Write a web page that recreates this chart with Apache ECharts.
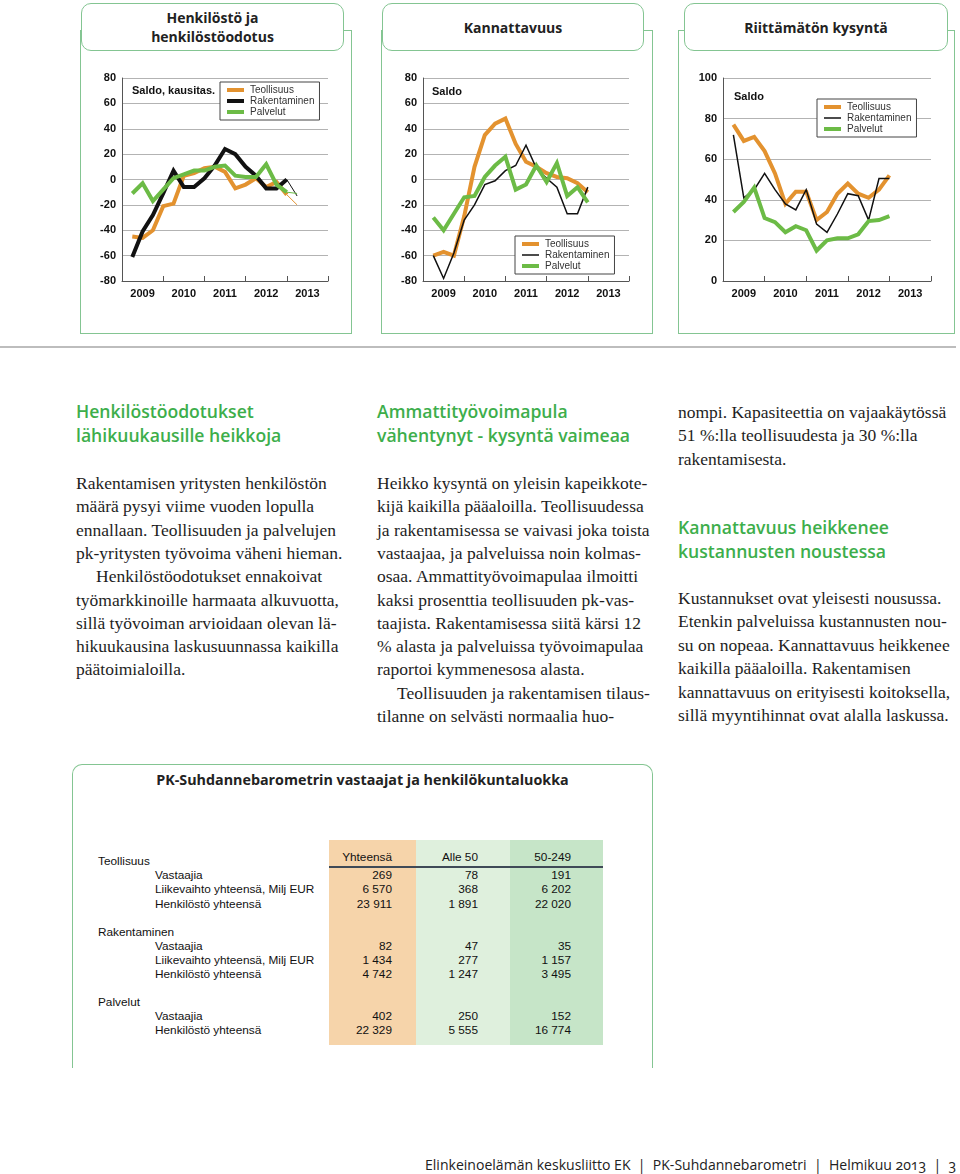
<!DOCTYPE html>
<html><head><meta charset="utf-8">
<script src="https://cdn.jsdelivr.net/npm/echarts/dist/echarts.min.js"></script>
<style>
html,body{margin:0;padding:0;background:#fff;}
body{width:960px;height:1174px;position:relative;overflow:hidden;}
#chart{position:absolute;left:0;top:0;width:960px;height:360px;z-index:2;}
.frame{position:absolute;border:1.5px solid #84c592;box-sizing:border-box;z-index:0;}
.hbox{position:absolute;background:#fff;border:1.5px solid #84c592;border-radius:10px;box-sizing:border-box;z-index:1;
  font-family:"Open Sans",sans-serif;font-weight:700;font-size:14px;color:#222;text-align:center;display:flex;align-items:center;justify-content:center;line-height:19px;}
.rule{position:absolute;left:0;top:346px;width:956px;height:2px;background:#bdbdbd;}
.line{position:absolute;white-space:nowrap;}
.body{font-family:"Liberation Serif","Times New Roman",serif;font-size:17.5px;color:#1e1e1e;height:24px;line-height:24px;}
.head{font-family:"Open Sans",sans-serif;font-weight:600;font-size:17.6px;color:#3dae4b;height:24px;line-height:24px;}
.tpanel{position:absolute;left:72px;top:764px;width:581px;height:304px;border:1.5px solid #84c592;border-bottom:none;border-radius:10px 10px 0 0;box-sizing:border-box;}
.ttitle{position:absolute;left:72px;width:581px;top:770px;text-align:center;font-family:"Open Sans",sans-serif;font-weight:700;font-size:14.3px;color:#222;line-height:20px;}
.tcell{position:absolute;font-family:"Liberation Sans",Arial,sans-serif;font-size:11.8px;color:#111;white-space:nowrap;height:14px;line-height:14px;}
.colbg{position:absolute;top:840px;height:205px;}
.footer{position:absolute;left:425px;top:1154px;font-family:"Open Sans",sans-serif;font-size:14.05px;color:#222;white-space:nowrap;line-height:22px;font-variant-numeric:oldstyle-nums;}
</style></head>
<body>
<div id="frames"></div>
<div class="rule"></div>
<div id="chart"></div>
<div id="texts"></div>
<div class="tpanel"></div>
<div class="ttitle">PK-Suhdannebarometrin vastaajat ja henkilökuntaluokka</div>
<div id="table"></div>
<div class="footer">Elinkeinoelämän keskusliitto EK &nbsp;|&nbsp; PK-Suhdannebarometri &nbsp;|&nbsp; Helmikuu 2013 &nbsp;|&nbsp; 3</div>
<script>
// ---------- DATA ----------
const years = ['2009', '2010', '2011', '2012', '2013'];
const seriesNames = ['Teollisuus', 'Rakentaminen', 'Palvelut'];

// Henkilöstö ja henkilöstöodotus (saldo, kausitasoitettu), 2009Q1..2012Q4
const empIndustry     = [-45, -46, -40, -21, -19, 3, 5, 9, 10, 6, -7, -4, 1, -6, -2, -12];
const empConstruction = [-61, -41, -28, -11, 7, -6, -6, 1, 11, 24, 20, 10, 3, -7, -7, 0];
const empServices     = [-11, -3, -17, -8, 1, 4, 7, 7, 10, 11, 3, 2, 2, 12, -4, -10];
// Odotus 2013Q1 (ohut viiva)
const empIndustryNext = -20;
const empConstructionNext = -13;
const empServicesNext = -11;

// Kannattavuus (saldo), 2009Q1..2012Q4
const profIndustry     = [-60, -57, -60, -29, 10, 35, 44, 48, 28, 14, 10, 5, 2, 1, -3, -10];
const profConstruction = [-60, -78, -58, -32, -20, -4, -1, 7, 11, 27, 9, 1, -6, -27, -27, -6];
const profServices     = [-30, -40, -27, -14, -13, 2, 11, 18, -8, -4, 11, -2, 13, -13, -6, -18];

// Riittämätön kysyntä (saldo), 2009Q1..2012Q4
const demIndustry     = [77, 69, 71, 64, 53, 38, 44, 44, 30, 34, 43, 48, 43, 41, 45, 52];
const demConstruction = [72, 41, 45, 53, 45, 38, 35, 45, 28, 24, 33, 43, 42, 30, 50.5, 50.5];
const demServices     = [34, 39, 46, 31, 29, 24, 27, 25, 15, 20, 21, 21, 23, 29.5, 30, 32];

// Table
const tableCols = ['Yhteensä', 'Alle 50', '50-249'];
const tableGroups = ['Teollisuus', 'Rakentaminen', 'Palvelut'];
const teollisuusRows = ['Vastaajia', 'Liikevaihto yhteensä, Milj EUR', 'Henkilöstö yhteensä'];
const teollisuusVals = [['269', '78', '191'], ['6 570', '368', '6 202'], ['23 911', '1 891', '22 020']];
const rakentaminenRows = ['Vastaajia', 'Liikevaihto yhteensä, Milj EUR', 'Henkilöstö yhteensä'];
const rakentaminenVals = [['82', '47', '35'], ['1 434', '277', '1 157'], ['4 742', '1 247', '3 495']];
const palvelutRows = ['Vastaajia', 'Henkilöstö yhteensä'];
const palvelutVals = [['402', '250', '152'], ['22 329', '5 555', '16 774']];

// ---------- LAYOUT (HTML parts) ----------
const frames = document.getElementById('frames');
function addFrame(fx, fw, hx, hw, title) {
  const f = document.createElement('div');
  f.className = 'frame';
  Object.assign(f.style, {left: fx + 'px', top: '30px', width: fw + 'px', height: '304px'});
  frames.appendChild(f);
  const h = document.createElement('div');
  h.className = 'hbox';
  Object.assign(h.style, {left: hx + 'px', top: '3px', width: hw + 'px', height: '48px'});
  h.innerHTML = title;
  frames.appendChild(h);
}
addFrame(80, 272, 81, 263, 'Henkilöstö ja<br>henkilöstöodotus');
addFrame(381, 272, 382, 262, 'Kannattavuus');
addFrame(678, 277, 684, 264, 'Riittämätön kysyntä');

const texts = document.getElementById('texts');
function addLines(x, y0, step, lines, cls, indentIdx) {
  lines.forEach((t, i) => {
    const d = document.createElement('div');
    d.className = 'line ' + cls;
    d.style.left = (x + (indentIdx && indentIdx.includes(i) ? 20 : 0)) + 'px';
    d.style.top = (y0 + i * step - 12) + 'px';
    d.textContent = t;
    texts.appendChild(d);
  });
}
addLines(76, 411, 23.5, ['Henkilöstöodotukset', 'lähikuukausille heikkoja'], 'head');
addLines(76, 483, 23.3, ['Rakentamisen yritysten henkilöstön', 'määrä pysyi viime vuoden lopulla',
  'ennallaan. Teollisuuden ja palvelujen', 'pk-yritysten työvoima väheni hieman.',
  'Henkilöstöodotukset ennakoivat', 'työmarkkinoille harmaata alkuvuotta,',
  'sillä työvoiman arvioidaan olevan lä-', 'hikuukausina laskusuunnassa kaikilla', 'päätoimialoilla.'], 'body', [4]);
addLines(377, 411, 23.5, ['Ammattityövoimapula', 'vähentynyt - kysyntä vaimeaa'], 'head');
addLines(377, 483, 23.3, ['Heikko kysyntä on yleisin kapeikkote-', 'kijä kaikilla pääaloilla. Teollisuudessa',
  'ja rakentamisessa se vaivasi joka toista', 'vastaajaa, ja palveluissa noin kolmas-',
  'osaa. Ammattityövoimapulaa ilmoitti', 'kaksi prosenttia teollisuuden pk-vas-',
  'taajista. Rakentamisessa siitä kärsi 12', '% alasta ja palveluissa työvoimapulaa',
  'raportoi kymmenesosa alasta.', 'Teollisuuden ja rakentamisen tilaus-',
  'tilanne on selvästi normaalia huo-'], 'body', [9]);
addLines(678, 412, 23.4, ['nompi. Kapasiteettia on vajaakäytössä', '51 %:lla teollisuudesta ja 30 %:lla', 'rakentamisesta.'], 'body');
addLines(678, 527, 23.5, ['Kannattavuus heikkenee', 'kustannusten noustessa'], 'head');
addLines(678, 598, 23.4, ['Kustannukset ovat yleisesti nousussa.', 'Etenkin palveluissa kustannusten nou-',
  'su on nopeaa. Kannattavuus heikkenee', 'kaikilla pääaloilla. Rakentamisen',
  'kannattavuus on erityisesti koitoksella,', 'sillä myyntihinnat ovat alalla laskussa.'], 'body');

// Table
const table = document.getElementById('table');
const colX = [329, 416, 510, 603];
const colBg = ['#f6d4aa', '#dff0dd', '#c6e5c8'];
const colRight = [392, 478, 571];
colBg.forEach((c, i) => {
  const d = document.createElement('div');
  d.className = 'colbg';
  Object.assign(d.style, {left: colX[i] + 'px', width: (colX[i + 1] - colX[i]) + 'px', background: c});
  table.appendChild(d);
});
const hl = document.createElement('div');
Object.assign(hl.style, {position: 'absolute', left: '329px', width: '274px', top: '866px', height: '1.5px', background: '#3f4a57'});
table.appendChild(hl);
function cell(txt, x, y, right) {
  const d = document.createElement('div');
  d.className = 'tcell';
  d.textContent = txt;
  d.style.top = (y - 7) + 'px';
  if (right) { d.style.right = (960 - x) + 'px'; } else { d.style.left = x + 'px'; }
  table.appendChild(d);
}
tableCols.forEach((c, i) => cell(c, colRight[i], 857, true));
const groups = [[teollisuusRows, teollisuusVals, 861], [rakentaminenRows, rakentaminenVals, 931.5], [palvelutRows, palvelutVals, 1002]];
groups.forEach((g, gi) => {
  cell(tableGroups[gi], 98, g[2], false);
  g[0].forEach((r, ri) => {
    const y = g[2] + 14.2 * (ri + 1);
    cell(r, 155, y, false);
    g[1][ri].forEach((v, ci) => cell(v, colRight[ci], y, true));
  });
});

// ---------- ECHARTS ----------
const ORANGE = '#e3922f', BLACK = '#111111', GREEN = '#6cbb46';
const chart = echarts.init(document.getElementById('chart'), null, {renderer: 'canvas'});
const grids = [
  {left: 122, top: 78, width: 206, height: 203},
  {left: 423, top: 78, width: 206, height: 203},
  {left: 723, top: 78, width: 208, height: 203}
];
const yRanges = [[-80, 80], [-80, 80], [0, 100]];
const lblFont = {color: '#111', fontWeight: 'bold', fontSize: 11, fontFamily: 'Liberation Sans, Arial, sans-serif'};
const xAxes = [], yAxes = [];
grids.forEach((g, gi) => {
  xAxes.push({gridIndex: gi, type: 'category', data: years, boundaryGap: true,
    axisLine: {onZero: false, lineStyle: {color: '#555', width: 1}},
    axisTick: {show: true, inside: true, length: 5, alignWithLabel: false, lineStyle: {color: '#555'}},
    axisLabel: Object.assign({margin: 7}, lblFont), splitLine: {show: false}});
  xAxes.push({gridIndex: gi, type: 'value', min: 0, max: 20, show: false});
  yAxes.push({gridIndex: gi, type: 'value', min: yRanges[gi][0], max: yRanges[gi][1], interval: 20,
    axisLine: {show: true, lineStyle: {color: '#555', width: 1}}, axisTick: {show: false},
    axisLabel: Object.assign({margin: 6}, lblFont),
    splitLine: {show: true, lineStyle: {color: '#b3b3b3', width: 1}}});
});
function pts(arr, start) { return arr.map((v, i) => [start + i, v]); }
function line(gi, name, data, color, width, z) {
  return {type: 'line', name: name, xAxisIndex: gi * 2 + 1, yAxisIndex: gi, data: data, symbol: 'none',
    lineStyle: {color: color, width: width, join: 'miter', cap: 'butt'}, itemStyle: {color: color}, z: z,
    emphasis: {disabled: true}, silent: true};
}
const series = [
  line(0, 'Teollisuus', pts(empIndustry, 1), ORANGE, 4, 2),
  line(0, 'Teollisuus', [[16, empIndustry[15]], [17, empIndustryNext]], ORANGE, 1, 2),
  line(0, 'Rakentaminen', pts(empConstruction, 1), BLACK, 4, 3),
  line(0, 'Rakentaminen', [[16, empConstruction[15]], [17, empConstructionNext]], BLACK, 1, 3),
  line(0, 'Palvelut', pts(empServices, 1), GREEN, 4, 4),
  line(0, 'Palvelut', [[16, empServices[15]], [17, empServicesNext]], GREEN, 1, 4),
  line(1, 'Teollisuus', pts(profIndustry, 1), ORANGE, 4, 2),
  line(1, 'Rakentaminen', pts(profConstruction, 1), BLACK, 1.5, 3),
  line(1, 'Palvelut', pts(profServices, 1), GREEN, 4, 4),
  line(2, 'Teollisuus', pts(demIndustry, 1), ORANGE, 4, 2),
  line(2, 'Rakentaminen', pts(demConstruction, 1), BLACK, 1.5, 3),
  line(2, 'Palvelut', pts(demServices, 1), GREEN, 4, 4)
];
const THICK = 'path://M0,0H17V4H0Z', THIN = 'path://M0,0H17V1.5H0Z';
function legend(left, top, blackIcon) {
  const cols = [ORANGE, BLACK, GREEN];
  return {orient: 'vertical', left: left, top: top, itemWidth: 17, itemHeight: 10, itemGap: 1,
    padding: [3, 5, 3, 7], borderColor: '#444', borderWidth: 1, backgroundColor: '#fff', selectedMode: false,
    symbolKeepAspect: true,
    textStyle: {fontSize: 10, color: '#333', fontFamily: 'Liberation Sans, Arial, sans-serif', padding: [0, 0, 0, 1]},
    data: seriesNames.map((n, i) => ({name: n, icon: (i === 1 && !blackIcon) ? THIN : THICK, itemStyle: {color: cols[i]}}))};
}
const saldoFont = {fontSize: 11, fontWeight: 'bold', fill: '#111', fontFamily: 'Liberation Sans, Arial, sans-serif'};
chart.setOption({
  animation: false,
  grid: grids,
  xAxis: xAxes,
  yAxis: yAxes,
  legend: [legend(220, 82, true), legend(515, 236, false), legend(817, 99, false)],
  graphic: [
    {type: 'text', left: 132, top: 85, z: 10, style: Object.assign({text: 'Saldo, kausitas.'}, saldoFont)},
    {type: 'text', left: 432, top: 86, z: 10, style: Object.assign({text: 'Saldo'}, saldoFont)},
    {type: 'text', left: 734, top: 91, z: 10, style: Object.assign({text: 'Saldo'}, saldoFont)}
  ],
  series: series
});
</script>
</body></html>
